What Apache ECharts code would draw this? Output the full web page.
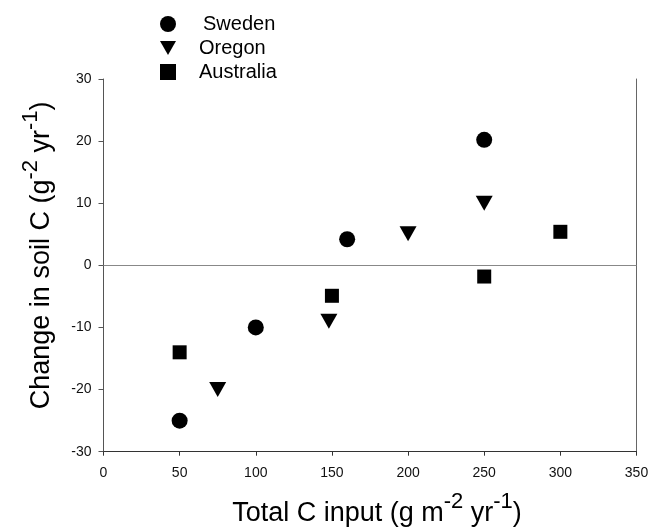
<!DOCTYPE html>
<html>
<head>
<meta charset="utf-8">
<script src="https://cdn.jsdelivr.net/npm/echarts@6/dist/echarts.min.js"></script>
<style>
  html, body { margin: 0; padding: 0; background: #fff; }
  #chart { width: 657px; height: 529px; }
</style>
</head>
<body>
<div id="chart"></div>
<script>
// values: [total C input, change in soil C]
var sweden = [[50, -25], [100, -10], [160, 4.2], [250, 20.2]];
var oregon = [[75, -20], [148, -9], [200, 5.1], [250, 10]];
var australia = [[50, -14], [150, -4.9], [250, -1.8], [300, 5.4]];

var xTicks = [0, 50, 100, 150, 200, 250, 300, 350];
var yTicks = [-30, -20, -10, 0, 10, 20, 30];

var font = 'Liberation Sans, Arial, sans-serif';
var triDown = 'path://M0,0 L18,0 L9,16 Z';

var titleRich = {
    a: { fontSize: 27, fontFamily: font, color: '#000', lineHeight: 36, verticalAlign: 'bottom' },
    s: { fontSize: 22, fontFamily: font, color: '#000', lineHeight: 22, verticalAlign: 'top' }
};

var chart = echarts.init(document.getElementById('chart'));
chart.setOption({
    animation: false,
    backgroundColor: '#fff',
    grid: { left: 103.5, right: 20.5, top: 79, bottom: 77.3, outerBoundsMode: 'none', containLabel: false },
    legend: {
        orient: 'vertical',
        left: 160,
        top: 14,
        padding: 0,
        itemWidth: 16,
        itemHeight: 16,
        itemGap: 4,
        textStyle: { fontSize: 20, fontFamily: font, color: '#000', padding: [0, 0, 0, 18] },
        data: [
            { name: 'Sweden', textStyle: { padding: [0, 0, 0, 22] } },
            { name: 'Oregon' },
            { name: 'Australia' }
        ]
    },
    xAxis: {
        type: 'value',
        min: xTicks[0],
        max: xTicks[xTicks.length - 1],
        interval: 50,
        name: '{a|Total C input (g m}{s|-2}{a| yr}{s|-1}{a|)}',
        nameLocation: 'middle',
        nameGap: 39,
        nameTextStyle: { rich: titleRich, padding: [0, 0, 0, 14] },
        splitLine: { show: false },
        axisLine: { onZero: false, lineStyle: { color: '#333', width: 1 } },
        axisTick: { length: 4, lineStyle: { color: '#333' } },
        axisLabel: { fontSize: 14, fontFamily: font, color: '#111', margin: 14 }
    },
    yAxis: [{
        type: 'value',
        min: yTicks[0],
        max: yTicks[yTicks.length - 1],
        interval: 10,
        name: '{a|Change in soil C (g}{s|-2}{a| yr}{s|-1}{a|)}',
        nameLocation: 'middle',
        nameRotate: 90,
        nameGap: 48,
        nameTextStyle: { rich: titleRich, padding: [0, 0, 0, 20] },
        splitLine: { show: false },
        axisLine: { show: true, onZero: false, lineStyle: { color: '#555', width: 1 } },
        axisTick: { length: 5, lineStyle: { color: '#555' } },
        axisLabel: { fontSize: 14, fontFamily: font, color: '#111', margin: 12 }
    }, {
        type: 'value',
        position: 'right',
        min: yTicks[0],
        max: yTicks[yTicks.length - 1],
        interval: 10,
        splitLine: { show: false },
        axisLine: { show: true, onZero: false, lineStyle: { color: '#666', width: 1 } },
        axisTick: { show: false },
        axisLabel: { show: false }
    }],
    series: [{
        name: 'Sweden',
        type: 'scatter',
        symbol: 'circle',
        symbolSize: 16,
        itemStyle: { color: '#000', opacity: 1 },
        data: sweden,
        markLine: {
            silent: true,
            symbol: 'none',
            label: { show: false },
            lineStyle: { color: '#888', width: 1, type: 'solid' },
            data: [{ yAxis: 0 }]
        }
    }, {
        name: 'Oregon',
        type: 'scatter',
        symbol: triDown,
        symbolSize: [17, 15],
        itemStyle: { color: '#000', opacity: 1 },
        data: oregon
    }, {
        name: 'Australia',
        type: 'scatter',
        symbol: 'rect',
        symbolSize: 14,
        itemStyle: { color: '#000', opacity: 1 },
        data: australia
    }]
});
</script>
</body>
</html>
